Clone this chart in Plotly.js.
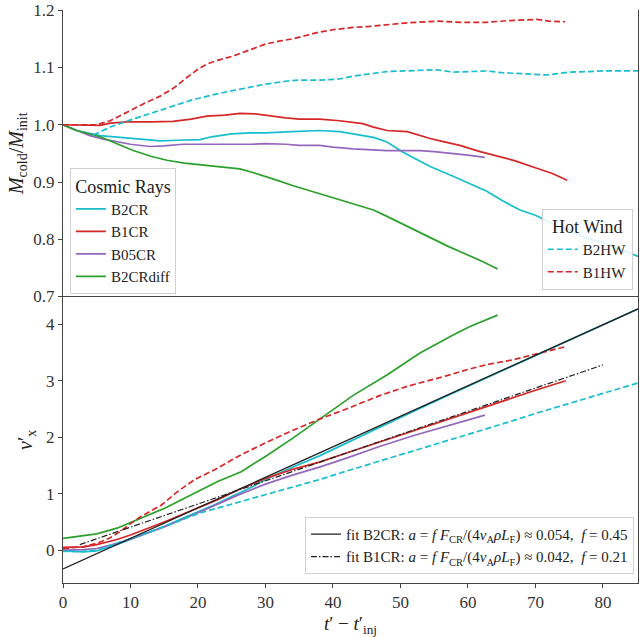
<!DOCTYPE html>
<html>
<head>
<meta charset="utf-8">
<script src="https://cdn.plot.ly/plotly-3.0.1.min.js"></script>
<style>html,body{margin:0;padding:0;background:#fff;}#chart{width:640px;height:637px;}</style>
</head>
<body>
<div id="chart"></div>
<script>
// ---------- Top panel: M_cold / M_init ----------
const tB2CR_m = [0,2,5.5,10,14.4,17,20.3,22,25,27.7,30,34,38,41,43,46,48,50.4,52,54.4,57.8,60,62.8,65,67.7,70,72,75,78,80,83,85.2];
const mB2CR   = [1.0,0.99,0.981,0.976,0.972,0.973,0.974,0.979,0.984,0.986,0.986,0.988,0.99,0.988,0.984,0.978,0.97,0.952,0.942,0.927,0.91,0.898,0.884,0.868,0.851,0.842,0.83,0.815,0.8,0.795,0.78,0.77];

const tB1CR_m = [0,3,5.5,7,9.5,13,16.3,19,21.3,24,26.2,28.5,31,33,35,38,41,44.4,46,48,51,54.4,56.5,58.8,61.8,64.7,67,70.2,72.5,74.7];
const mB1CR   = [1.0,1.0,0.999,1.003,1.005,1.005,1.006,1.01,1.015,1.017,1.02,1.019,1.015,1.012,1.01,1.01,1.007,1.002,0.996,0.99,0.988,0.976,0.97,0.964,0.953,0.944,0.937,0.924,0.915,0.903];

const tB05CR_m = [0,2,4,6,8,10,12.9,15,17.8,21,25.2,28,30,33,35,38,40,43,48,52.9,55,57.8,60,62.5];
const mB05CR   = [1.0,0.99,0.981,0.975,0.97,0.966,0.962,0.963,0.966,0.966,0.965,0.966,0.967,0.966,0.964,0.964,0.961,0.958,0.955,0.955,0.953,0.95,0.947,0.943];

const tB2CRdiff_m = [0,2,5.5,8,10.4,13,15.4,18,21.8,24,26.2,28,30,32,34,36,38,40,43,46,48,50.4,53,55.4,57,59.3,62,64.4];
const mB2CRdiff   = [1.0,0.99,0.979,0.967,0.955,0.945,0.938,0.933,0.928,0.926,0.923,0.917,0.91,0.902,0.894,0.887,0.88,0.873,0.862,0.851,0.84,0.826,0.812,0.798,0.788,0.776,0.762,0.748];

const tB2HW_m = [4.5,7,10.4,13,15.4,19,22.8,26,30,33,35,38,41,43,46,48,50.4,53,55.4,57.8,60,62.8,65,67.7,70,71.7,73,75,78,80,83,85.2];
const mB2HW   = [0.982,0.996,1.01,1.02,1.03,1.043,1.054,1.062,1.071,1.076,1.078,1.078,1.08,1.085,1.09,1.093,1.094,1.095,1.096,1.092,1.093,1.094,1.091,1.089,1.087,1.087,1.089,1.092,1.093,1.094,1.094,1.094];

const tB1HW_m = [0,3,5,7,8.7,10.4,12.5,14.4,16.5,18.4,20,21.3,23,25.2,27.5,30,32,34,36,38,40,43,45.5,48,51,55.4,59,62.8,66,70.2,72,74.4];
const mB1HW   = [1.0,1.0,1.0,1.007,1.017,1.028,1.04,1.05,1.065,1.083,1.097,1.106,1.113,1.12,1.13,1.141,1.146,1.15,1.156,1.162,1.166,1.17,1.172,1.175,1.178,1.181,1.179,1.179,1.182,1.184,1.181,1.18];

// ---------- Bottom panel: v'_x ----------
const tB2CR_v = [0,3,5,8,10,12,15,18,20,22,25,28,30,34,38,42,46,50,55,60,65,70,75,80,85.2];
const vB2CR   = [-0.01,-0.03,-0.01,0.1,0.19,0.28,0.42,0.58,0.68,0.78,0.95,1.12,1.25,1.47,1.67,1.9,2.13,2.35,2.63,2.9,3.17,3.45,3.72,3.99,4.27];

const tB1CR_v = [0,3,5,8,10,12,15,18,20,23,26,30,34,38,42,46,50,55,60,65,70,74.5];
const vB1CR   = [0.05,0.06,0.1,0.19,0.27,0.36,0.5,0.65,0.75,0.9,1.07,1.27,1.43,1.56,1.72,1.88,2.04,2.24,2.44,2.64,2.83,3.0];

const tB05CR_v = [0,3,5,8,10,12,15,18,20,23,26,30,34,38,42,47,52,57,62.5];
const vB05CR   = [0.0,0.01,0.03,0.12,0.2,0.28,0.41,0.56,0.66,0.82,0.98,1.17,1.33,1.47,1.63,1.84,2.03,2.2,2.39];

const tB2CRdiff_v = [0,3,5,8,10,12,15,18,20,23,26.4,30,34,38,43,48,52.9,57.8,60.3,64.4];
const vB2CRdiff   = [0.21,0.25,0.29,0.39,0.49,0.59,0.74,0.92,1.04,1.22,1.39,1.66,1.98,2.32,2.74,3.1,3.49,3.81,3.96,4.16];

const tB2HW_v = [0,3,5,8,10,13,15,18,20.3,23,26,30,34,38,42,47,51,55,60,65,70,75,80,85.2];
const vB2HW   = [-0.02,-0.02,0.0,0.12,0.2,0.33,0.42,0.56,0.66,0.75,0.85,0.99,1.12,1.25,1.4,1.58,1.72,1.87,2.05,2.23,2.42,2.6,2.78,2.96];

const tB1HW_v = [0,3,5.2,7,8.6,10,11.6,13,14.6,17,19.5,22.4,26.4,30,34,38,42,47,51,56.9,60,63,66.7,70,72,74.4];
const vB1HW   = [0.03,0.06,0.13,0.22,0.34,0.47,0.6,0.7,0.8,1.04,1.25,1.42,1.69,1.9,2.12,2.32,2.5,2.74,2.9,3.09,3.2,3.29,3.37,3.47,3.53,3.6];

const tFitB2CR = [0,85.2];
const vFitB2CR = [-0.33,4.27];
const tFitB1CR = [2.5,80];
const vFitB1CR = [0.1,3.28];

const xTicks = [0,10,20,30,40,50,60,70,80];
const yTopTicks = [0.7,0.8,0.9,1.0,1.1,1.2];
const yTopLabels = ['0.7','0.8','0.9','1.0','1.1','1.2'];
const yBotTicks = [0,1,2,3,4];

const C = {cyan:'#17becf', red:'#d62728', purple:'#9467bd', green:'#2ca02c'};
const LW = 1.7;
const DASH = '6px,3px';
const FONT = '"Liberation Serif", "DejaVu Serif", serif';

function tr(x, y, name, color, dash, axis, legend, show) {
  return {x:x, y:y, name:name, type:'scatter', mode:'lines',
    line:{color:color, width:LW, dash:dash||'solid'},
    xaxis:'x', yaxis:axis, legend:legend, showlegend:show};
}

const fitText = (a, f, name) => name + ': <i>a</i> = <i>f</i> <i>F</i><sub>CR</sub>/(4<i>v</i><sub>A</sub><i>ρL</i><sub>F</sub>) ≈ ' + a + ',  <i>f</i> = ' + f;

const data = [
  tr(tB2CR_m, mB2CR, 'B2CR', C.cyan, null, 'y', 'legend', true),
  tr(tB1CR_m, mB1CR, 'B1CR', C.red, null, 'y', 'legend', true),
  tr(tB05CR_m, mB05CR, 'B05CR', C.purple, null, 'y', 'legend', true),
  tr(tB2CRdiff_m, mB2CRdiff, 'B2CRdiff', C.green, null, 'y', 'legend', true),
  tr(tB2HW_m, mB2HW, 'B2HW', C.cyan, DASH, 'y', 'legend2', true),
  tr(tB1HW_m, mB1HW, 'B1HW', C.red, DASH, 'y', 'legend2', true),

  tr(tB2CR_v, vB2CR, 'B2CR', C.cyan, null, 'y2', 'legend', false),
  tr(tB1CR_v, vB1CR, 'B1CR', C.red, null, 'y2', 'legend', false),
  tr(tB05CR_v, vB05CR, 'B05CR', C.purple, null, 'y2', 'legend', false),
  tr(tB2CRdiff_v, vB2CRdiff, 'B2CRdiff', C.green, null, 'y2', 'legend', false),
  tr(tB2HW_v, vB2HW, 'B2HW', C.cyan, DASH, 'y2', 'legend2', false),
  tr(tB1HW_v, vB1HW, 'B1HW', C.red, DASH, 'y2', 'legend2', false),
  {x:tFitB2CR, y:vFitB2CR, type:'scatter', mode:'lines', xaxis:'x', yaxis:'y2', legend:'legend3',
   name:fitText('0.054','0.45','fit B2CR'), line:{color:'#222', width:1.3}},
  {x:tFitB1CR, y:vFitB1CR, type:'scatter', mode:'lines', xaxis:'x', yaxis:'y2', legend:'legend3',
   name:fitText('0.042','0.21','fit B1CR'), line:{color:'#222', width:1.2, dash:'6px,2px,1.5px,2px'}}
];

const tickFont = {family:FONT, size:17, color:'#333'};
const axisCommon = {showline:true, linecolor:'#444', linewidth:1, mirror:true, showgrid:false, zeroline:false,
  ticks:'outside', ticklen:4, tickcolor:'#444', tickfont:tickFont, ticklabeloverflow:'allow'};

const itemFont = {family:FONT, size:15, color:'#222'};
const legCommon = {bgcolor:'rgba(255,255,255,0.85)', bordercolor:'#d0d0d0', borderwidth:1};

const layout = {
  width:640, height:637,
  margin:{l:63, r:2, t:10, b:54},
  paper_bgcolor:'#fff', plot_bgcolor:'#fff',
  font:{family:FONT, color:'#222', size:15},
  xaxis: Object.assign({}, axisCommon, {range:[0,85.2], tickvals:xTicks, anchor:'y2',
    title:{text:"<i>t</i>′ − <i>t</i>′<sub>inj</sub>", font:{family:FONT, size:19, color:'#222'}, standoff:6}}),
  yaxis: Object.assign({}, axisCommon, {domain:[0.5,1], range:[0.7,1.2005], tickvals:yTopTicks, ticktext:yTopLabels,
    title:{text:"<i>M</i><sub>cold</sub>/<i>M</i><sub>init</sub>", font:{family:FONT, size:20, color:'#222'}, standoff:4}}),
  yaxis2: Object.assign({}, axisCommon, {domain:[0,0.5], range:[-0.58,4.49], tickvals:yBotTicks,
    title:{text:"<i>v</i>′<sub>x</sub>", font:{family:FONT, size:20, color:'#222'}, standoff:8}}),
  legend: Object.assign({}, legCommon, {x:0.012, y:0.724, xanchor:'left', yanchor:'top', font:itemFont,
    title:{text:'Cosmic Rays', side:'top center', font:{family:FONT, size:18, color:'#222'}}}),
  legend2: Object.assign({}, legCommon, {x:0.991, y:0.512, xanchor:'right', yanchor:'bottom', font:itemFont,
    title:{text:'Hot Wind', side:'top center', font:{family:FONT, size:18, color:'#222'}}}),
  legend3: Object.assign({}, legCommon, {x:0.993, y:0.016, xanchor:'right', yanchor:'bottom',
    font:{family:FONT, size:15, color:'#222'}})
};

Plotly.newPlot('chart', data, layout, {displayModeBar:false, staticPlot:true});
</script>
</body>
</html>
